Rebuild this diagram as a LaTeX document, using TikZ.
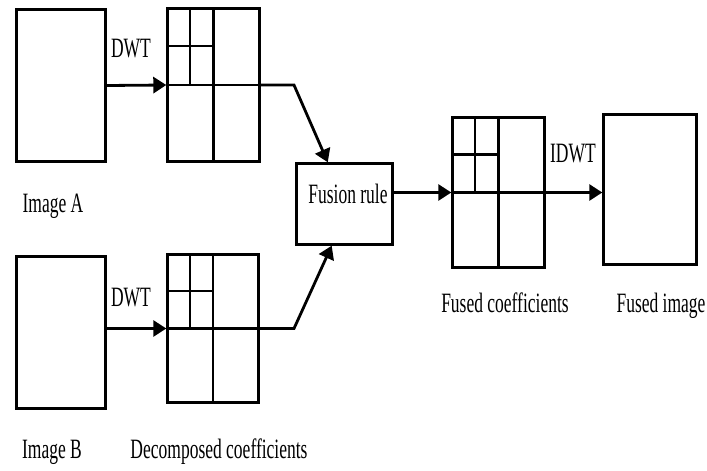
\documentclass[tikz,border=0pt]{standalone}
\usepackage{fontspec}
\usepackage{graphicx}
\setmainfont{Liberation Serif}
\usetikzlibrary{arrows.meta,calc}

% text set taller than its natural shape
\newcommand\tallText[1]{\scalebox{1}[1.6]{#1}}

% wavelet sub-band partition drawn inside a square node
\newcommand\coefgrid[1]{%
  \draw[gridline] (#1.north) -- (#1.south);
  \draw[gridline] (#1.west) -- (#1.east);
  \draw[gridline] ($(#1.north west)!0.25!(#1.north east)$) -- ($(#1.west)!0.25!(#1.east)$);
  \draw[gridline] ($(#1.north west)!0.5!(#1.west)$) -- ($(#1.north)!0.5!(#1.center)$);
}

\begin{document}
\begin{tikzpicture}[x=1pt,y=-1pt,
  box/.style={draw,line width=2.8pt,inner sep=0pt},
  gridline/.style={line width=2.3pt},
  conn/.style={line width=2.8pt,-{Triangle[length=13pt,width=16pt]}},
  lbl/.style={font=\fontsize{17.5}{20}\selectfont,anchor=base,inner sep=0pt}]

\useasboundingbox (0,0) rectangle (707,471);

% images and coefficient blocks
\node[box,minimum width=89pt,minimum height=152pt] (imgA) at (61,85.5) {};
\node[box,minimum width=91.6pt,minimum height=152.6pt] (gA) at (213.5,85) {};
\node[box,minimum width=89pt,minimum height=152pt] (imgB) at (61,332.5) {};
\node[box,minimum width=90.6pt,minimum height=147.6pt] (gB) at (213,328.5) {};
\node[box,minimum width=95.6pt,minimum height=80.6pt] (fusion) at (344.5,204) {};
\node[box,minimum width=91.6pt,minimum height=149.6pt] (fgrid) at (498.5,192.5) {};
\node[box,minimum width=92.6pt,minimum height=149.6pt] (fimg) at (650,189.5) {};

\coefgrid{gA}
\coefgrid{gB}
\coefgrid{fgrid}

% connectors
\coordinate (kA) at (294,85);
\coordinate (kB) at (294,328.5);
\draw[conn] (imgA.east) -- (gA.west);
\draw[conn] (gB.west -| imgB.east) -- (gB.west);
\draw[conn] (gA.east) -- (kA) -- ($(fusion.north west)!0.33!(fusion.north east)$);
\draw[conn] (gB.east) -- (kB) -- ($(fusion.south west)!0.37!(fusion.south east)$);
\draw[conn] (fgrid.west -| fusion.east) -- (fgrid.west);
\draw[conn] (fgrid.east) -- (fgrid.east -| fimg.west);

% labels
\node[lbl] (dwtA) at (131,57) {\tallText{DWT}};
\node[lbl] (dwtB) at (131,306) {\tallText{DWT}};
\node[lbl] (idwt) at (573,162) {\tallText{IDWT}};
\node[lbl] (fuse) at (348,203) {\tallText{Fusion rule}};
\node[lbl] (lA) at (53,212) {\tallText{Image A}};
\node[lbl] (lB) at (52,458) {\tallText{Image B}};
\node[lbl] (lDec) at (219,458) {\tallText{Decomposed coefficients}};
\node[lbl] (lFc) at (505,312) {\tallText{Fused coefficients}};
\node[lbl] (lFi) at (661,312) {\tallText{Fused image}};
\end{tikzpicture}
\end{document}
